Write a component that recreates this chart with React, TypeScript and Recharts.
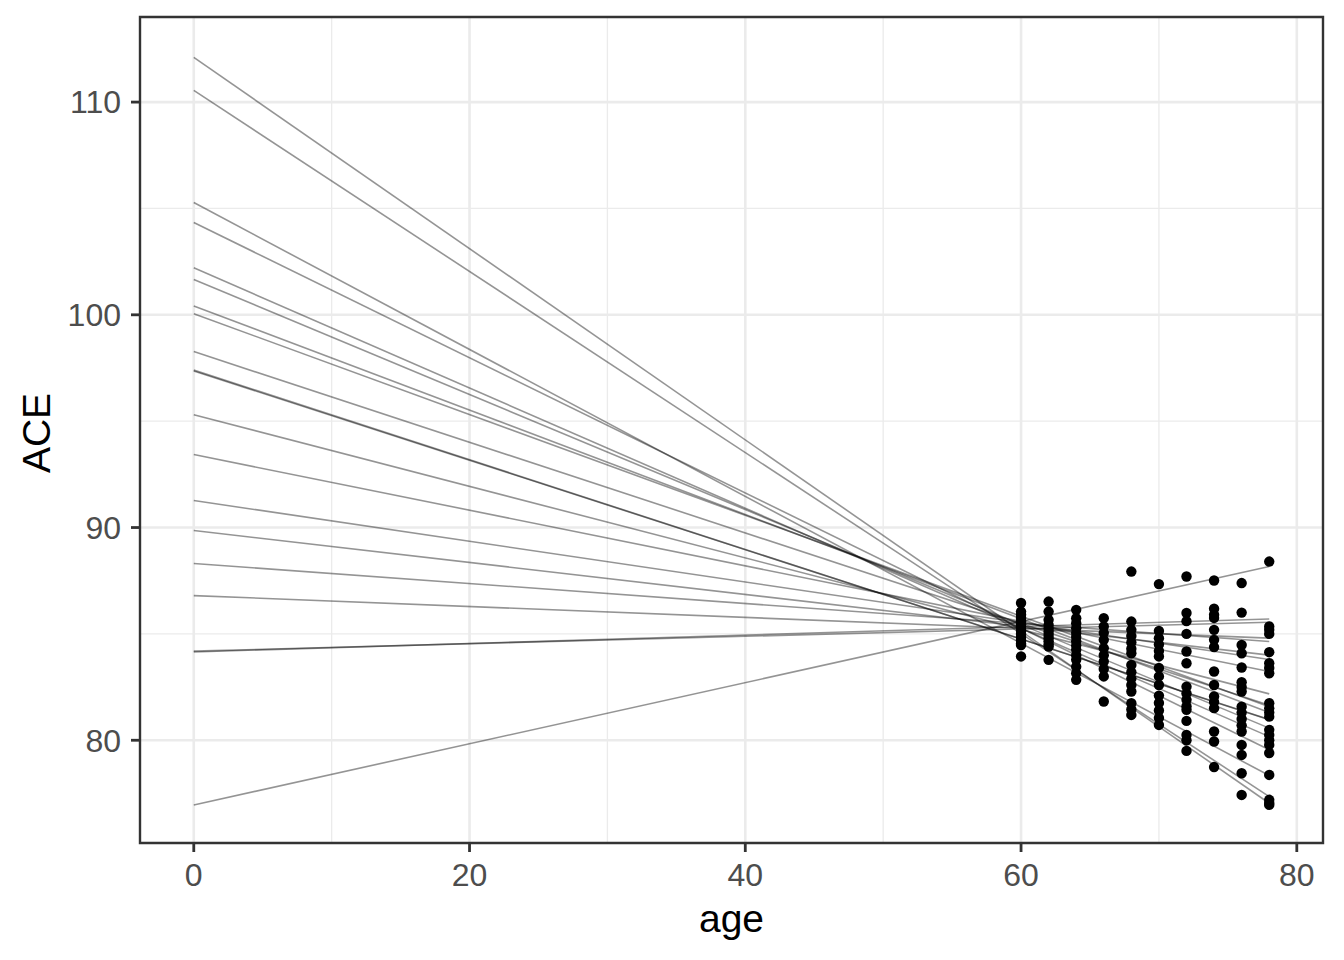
import React from "react";
import {
  ComposedChart,
  Line,
  Scatter,
  XAxis,
  YAxis,
  ZAxis,
  CartesianGrid,
  ReferenceArea,
} from "recharts";

// fitted subject lines, drawn from age 0 to age 78
const lineStartAge = 0;
const lineEndAge = 78;
const lineIntercepts = [
  112.1, 110.55, 105.28, 104.34, 102.21, 101.66, 100.42, 100.05, 98.27, 97.4,
  97.36, 95.3, 93.43, 91.27, 89.86, 88.31, 86.8, 84.19, 84.15, 76.96,
];
const lineEnds = [
  77.04, 77.35, 78.34, 79.55, 80.17, 80.57, 81.3, 81.57, 81.65, 80.96, 80.98,
  82.18, 83.23, 83.8, 84.0, 84.64, 84.8, 85.55, 85.7, 88.17,
];

// observed ACE values per age
const obsAges = [60, 62, 64, 66, 68, 70, 72, 74, 76, 78];
const ace60 = [86.45, 86.05, 85.9, 85.75, 85.6, 85.45, 85.3, 85.15, 85.0, 84.85, 84.7, 84.55, 84.48, 83.94];
const ace62 = [86.52, 86.05, 85.66, 85.42, 85.25, 85.1, 84.95, 84.8, 84.65, 84.5, 84.4, 83.78];
const ace64 = [86.13, 85.74, 85.5, 85.27, 85.04, 84.85, 84.65, 84.45, 84.25, 84.0, 83.78, 83.46, 83.15, 82.84];
const ace66 = [85.74, 85.35, 85.05, 84.72, 84.33, 84.0, 83.7, 83.35, 83.0, 81.82];
const ace68 = [87.93, 85.58, 85.19, 84.9, 84.6, 84.3, 84.09, 83.54, 83.2, 82.9, 82.6, 82.29, 81.74, 81.45, 81.19];
const ace70 = [87.34, 85.14, 84.8, 84.5, 84.2, 83.94, 83.4, 83.0, 82.6, 82.1, 81.75, 81.4, 81.05, 80.72];
const ace72 = [87.7, 85.98, 85.6, 85.0, 84.17, 83.62, 82.52, 82.2, 81.9, 81.6, 81.43, 80.91, 80.25, 80.0, 79.5];
const ace74 = [87.51, 86.18, 85.9, 85.75, 85.19, 84.72, 84.38, 83.23, 82.6, 82.06, 81.8, 81.51, 80.41, 79.94, 78.74];
const ace76 = [87.39, 86.0, 84.48, 84.09, 83.42, 82.73, 82.5, 82.29, 81.58, 81.3, 81.0, 80.7, 80.41, 79.78, 79.31, 78.45, 77.43];
const ace78 = [88.4, 85.35, 85.2, 85.0, 84.14, 83.62, 83.4, 83.15, 81.74, 81.5, 81.3, 81.11, 80.49, 80.25, 80.0, 79.78, 79.4, 78.37, 77.2, 77.05, 76.96];
const aceByAge = [ace60, ace62, ace64, ace66, ace68, ace70, ace72, ace74, ace76, ace78];

const xTicks = [0, 20, 40, 60, 80];
const yTicks = [80, 90, 100, 110];
const xMinor = [10, 30, 50, 70];
const yMinor = [85, 95, 105];
const xDomain: [number, number] = [-3.9, 81.9];
const yDomain: [number, number] = [75.17, 114.0];

const FONT = "'Liberation Sans', Arial, sans-serif";

const subjectLines = lineIntercepts.map((a, i) => [
  { age: lineStartAge, ace: a },
  { age: lineEndAge, ace: lineEnds[i] },
]);

const points = obsAges.flatMap((age, i) => aceByAge[i].map((ace) => ({ age, ace })));

const tickStyle = { fill: "#4D4D4D", fontSize: 32, fontFamily: FONT };

export default function App() {
  return (
    <div
      style={{
        position: "absolute",
        left: 0,
        top: 0,
        width: 1344,
        height: 960,
        background: "#fff",
      }}
    >
      <ComposedChart
        width={1344}
        height={960}
        margin={{ top: 17, right: 21, bottom: 0, left: 0 }}
      >
        <CartesianGrid
          horizontalValues={yMinor}
          verticalValues={xMinor}
          stroke="#EBEBEB"
          strokeWidth={1.3}
        />
        <CartesianGrid
          horizontalValues={yTicks}
          verticalValues={xTicks}
          stroke="#EBEBEB"
          strokeWidth={2.6}
        />
        <XAxis
          type="number"
          dataKey="age"
          domain={xDomain}
          allowDataOverflow
          ticks={xTicks}
          interval={0}
          height={117}
          axisLine={false}
          tickLine={{ stroke: "#333333", strokeWidth: 2.8 }}
          tickSize={9}
          tickMargin={11}
          tick={tickStyle}
        />
        <YAxis
          type="number"
          dataKey="ace"
          domain={yDomain}
          allowDataOverflow
          ticks={yTicks}
          interval={0}
          width={140}
          axisLine={false}
          tickLine={{ stroke: "#333333", strokeWidth: 2.8 }}
          tickSize={9}
          tickMargin={10}
          tick={tickStyle}
        />
        {/* symbol area -> circle radius about 5.2px */}
        <ZAxis range={[85, 85]} />
        {subjectLines.map((d, i) => (
          <Line
            key={i}
            data={d}
            dataKey="ace"
            type="linear"
            stroke="#000"
            strokeOpacity={0.42}
            strokeWidth={1.6}
            dot={false}
            activeDot={false}
            isAnimationActive={false}
          />
        ))}
        <Scatter
          data={points}
          dataKey="ace"
          shape="circle"
          fill="#000"
          isAnimationActive={false}
        />
        <ReferenceArea
          x1={xDomain[0]}
          x2={xDomain[1]}
          y1={yDomain[0]}
          y2={yDomain[1]}
          fill="none"
          fillOpacity={0}
          stroke="#333333"
          strokeWidth={2.4}
        />
      </ComposedChart>
      <svg
        width={1344}
        height={960}
        style={{ position: "absolute", left: 0, top: 0, pointerEvents: "none" }}
      >
        <text
          x={731.5}
          y={932}
          textAnchor="middle"
          fontSize={39}
          fontFamily={FONT}
          fill="#000"
        >
          age
        </text>
        <text
          x={50}
          y={433}
          transform="rotate(-90 50 433)"
          textAnchor="middle"
          fontSize={39}
          fontFamily={FONT}
          fill="#000"
        >
          ACE
        </text>
      </svg>
    </div>
  );
}
